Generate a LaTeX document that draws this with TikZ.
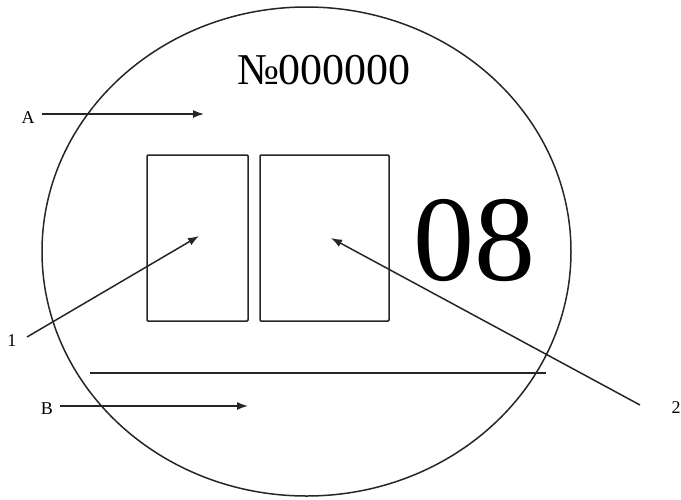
\documentclass[tikz,border=0pt]{standalone}
\usepackage{fontspec}
\setmainfont{Liberation Serif}
\usetikzlibrary{arrows.meta}
\begin{document}
\begin{tikzpicture}[x=1pt,y=-1pt,
  ln/.style={line width=1.5pt,draw=black!85},
  arr/.style={ln,-{Latex[length=11pt,width=8pt]}},
  lbl/.style={inner sep=0pt,font=\fontsize{18}{18}\selectfont},
  box/.style={ln,rounded corners=1pt}]
\useasboundingbox (0,0) rectangle (681,499);
\draw[ln] (306.5,251.5) ellipse [x radius=264.5, y radius=244.5];
\node[inner sep=0pt,font=\fontsize{44}{44}\selectfont] (num) at (324,70) {№000000};
\node[inner sep=0pt,font=\fontsize{122}{122}\selectfont] (code) at (474,241) {08};
\draw[box] (147,155) rectangle (248,321);
\draw[box] (260,155) rectangle (389,321);
\coordinate (l1) at (90,373);
\coordinate (l2) at (546,373);
\draw[ln] (l1) -- (l2);
\node[lbl] (A) at (28,118) {A};
\coordinate (A1) at (42,114);
\coordinate (A2) at (204,114);
\draw[arr] (A1) -- (A2);
\node[lbl] (B) at (47,409) {B};
\coordinate (B1) at (60,406);
\coordinate (B2) at (248,406);
\draw[arr] (B1) -- (B2);
\node[lbl] (one) at (12,341) {1};
\coordinate (o1) at (27,337);
\coordinate (o2) at (199,236);
\draw[arr] (o1) -- (o2);
\node[lbl] (two) at (676,408) {2};
\coordinate (t1) at (640,405);
\coordinate (t2) at (331,238);
\draw[arr] (t1) -- (t2);
\end{tikzpicture}
\end{document}
